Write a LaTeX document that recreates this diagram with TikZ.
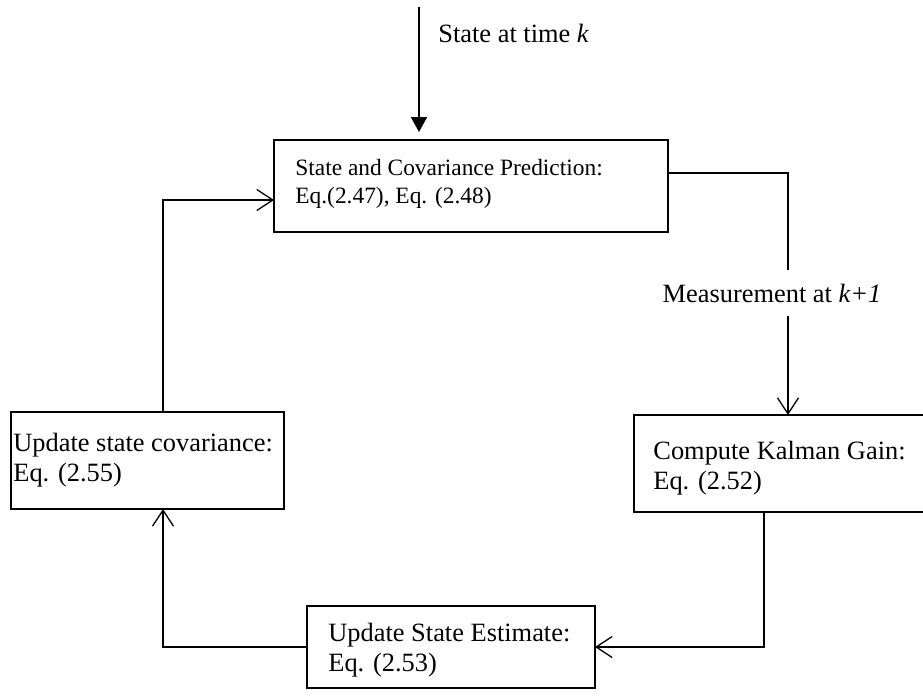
\documentclass[tikz,border=0pt]{standalone}
\usepackage{fontspec}
\setmainfont{Liberation Serif}
\usetikzlibrary{arrows.meta}
\usetikzlibrary{positioning}

\begin{document}
\begin{tikzpicture}[
		x=0.5pt,y=-0.5pt,
		every node/.style={
    		font=\fontsize{13.2}{15}\selectfont
    	},
    	box/.style 2 args={draw,line width=0.7pt,outer sep=0pt,inner sep=0pt,anchor=north west,minimum width=#1,minimum height=#2},
    	boxtext/.style={anchor=base west,align=left,inner sep=0pt},
    	flow/.style={line width=0.65pt,-{Straight Barb[length=8pt,width=10.5pt]}}
	]
	
	\useasboundingbox (0,0) rectangle (923,698);
	
	% the four steps
	\node[box={197pt}{46pt}] (pred) at (274,140) {};
	\node[box={146pt}{48.5pt}] (kal) at (634,415) {};
	\node[box={144pt}{41pt}] (est) at (307,606) {};
	\node[box={136.5pt}{48.5pt}] (cov) at (11,412) {};
	
	\node[boxtext,font=\fontsize{11.7}{14}\selectfont] (predtxt) at (295,203) {State and Covariance Prediction:\\Eq.(2.47), Eq. (2.48)};
	\node[boxtext] (kaltxt) at (653,489) {Compute Kalman Gain:\\Eq. (2.52)};
	\node[boxtext] (esttxt) at (328,671) {Update State Estimate:\\Eq. (2.53)};
	\node[boxtext] (covtxt) at (13,481) {Update state covariance:\\Eq. (2.55)};
	
	% input
	\coordinate (in) at (419,7);
	\draw[line width=1pt,shorten >=4pt,-{Triangle[length=7.5pt,width=8pt]}] (in) -- (in |- pred.north);
	\node[anchor=west,inner sep=0pt] (intxt) at (438,33) {State at time \textit{k}};
	
	% loop
	\draw[flow] ([yshift=6.5pt]pred.east) -| ([xshift=4pt]kal.north);
	\node[fill=white,inner xsep=1pt,inner ysep=7pt] (meas) at (772,293) {Measurement at \textit{k+1}};
	\draw[flow] ([xshift=-8pt]kal.south) |- (est.east);
	\draw[flow] (est.west) -| ([xshift=7.75pt]cov.south);
	\draw[flow] ([xshift=7.75pt]cov.north) |- ([yshift=-7pt]pred.west);
	
\end{tikzpicture}
\end{document}
